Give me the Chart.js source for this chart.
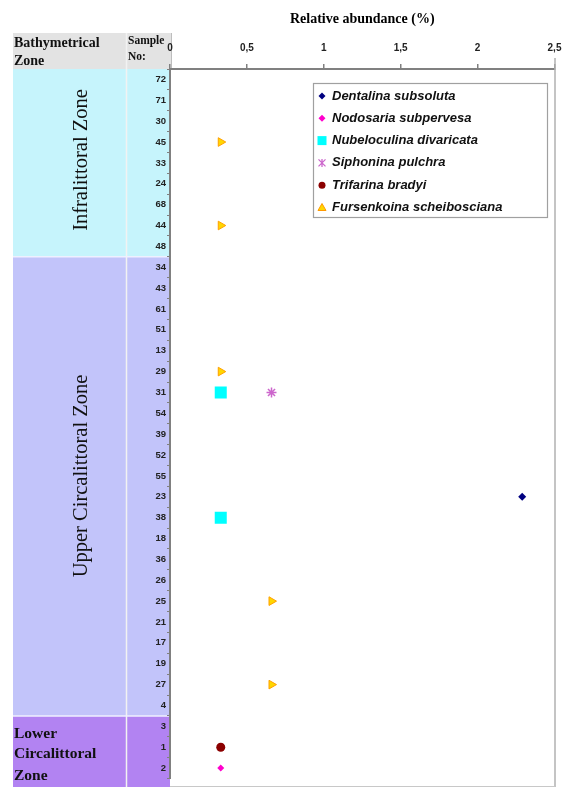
<!DOCTYPE html>
<html><head><meta charset="utf-8">
<script src="https://cdn.jsdelivr.net/npm/chart.js@4.4.1/dist/chart.umd.min.js"></script>
<style>html,body{margin:0;padding:0;background:#fff}#wrap{width:563px;height:787px;position:relative}</style>
</head><body><div id="wrap"><canvas id="c" width="563" height="787"></canvas></div>
<script>
// ---- data ----
const samples = ['72','71','30','45','33','24','68','44','48',
  '34','43','61','51','13','29','31','54','39','52','55','23','38','18','36','26','25','21','17','19','27','4',
  '3','1','2'];
const zoneNames = ['Infralittoral Zone','Upper Circalittoral Zone','Lower Circalittoral Zone'];
const zoneRowCounts = [9, 22, 3];
const xTicks = [0, 0.5, 1, 1.5, 2, 2.5];

const dentalinaSamples = ['23'];      const dentalinaValues = [2.29];
const nodosariaSamples = ['2'];       const nodosariaValues = [0.33];
const nubeloculinaSamples = ['31','38']; const nubeloculinaValues = [0.33, 0.33];
const siphoninaSamples = ['31'];      const siphoninaValues = [0.66];
const trifarinaSamples = ['1'];       const trifarinaValues = [0.33];
const fursenkoinaSamples = ['45','44','29','25','27']; const fursenkoinaValues = [0.33, 0.33, 0.33, 0.66, 0.66];

const seriesNames = ['Dentalina subsoluta','Nodosaria subpervesa','Nubeloculina divaricata','Siphonina pulchra','Trifarina bradyi','Fursenkoina scheibosciana'];

function pts(s, v){ return s.map((k,i)=>({x:v[i], y:k})); }

const zoneColors = ['#c6f4fc','#c2c4fa','#b283f2'];
const SERIF = '"Liberation Serif", "Times New Roman", serif';
const SANS = '"Liberation Sans", Arial, sans-serif';

function drawMarker(ctx, kind, x, y){
  ctx.save();
  ctx.lineWidth = 1;
  if (kind === 0 || kind === 1){
    const r = 3.5;
    ctx.fillStyle = kind===0 ? '#000080' : '#ff00cc';
    ctx.beginPath(); ctx.moveTo(x, y-r); ctx.lineTo(x+r, y); ctx.lineTo(x, y+r); ctx.lineTo(x-r, y); ctx.closePath(); ctx.fill();
  } else if (kind === 2){
    ctx.fillStyle = '#00ffff'; ctx.fillRect(x-4.5, y-4.5, 9, 9);
  } else if (kind === 3){
    ctx.strokeStyle = '#cc66cc'; ctx.lineWidth = 1.3;
    ctx.beginPath(); ctx.moveTo(x-3.5,y-3.5); ctx.lineTo(x+3.5,y+3.5); ctx.moveTo(x+3.5,y-3.5); ctx.lineTo(x-3.5,y+3.5);
    ctx.moveTo(x,y-4); ctx.lineTo(x,y+4); ctx.stroke();
  } else if (kind === 4){
    ctx.fillStyle = '#8b0000'; ctx.beginPath(); ctx.arc(x,y,3.5,0,Math.PI*2); ctx.fill();
  } else {
    ctx.fillStyle = '#ffd700'; ctx.strokeStyle = '#ff9900';
    ctx.beginPath(); ctx.moveTo(x, y-4); ctx.lineTo(x+4, y+3); ctx.lineTo(x-4, y+3); ctx.closePath(); ctx.fill(); ctx.stroke();
  }
  ctx.restore();
}

const tablePlugin = {
  id: 'tablePlugin',
  beforeDraw(chart){
    const ctx = chart.ctx, ca = chart.chartArea;
    const L = 13, D = 126, R = ca.left;
    const rowH = (ca.bottom - ca.top) / samples.length;
    ctx.save();
    ctx.fillStyle = '#e3e3e3';
    ctx.fillRect(L, 33, R - L + 1, ca.top - 33);
    let r0 = 0;
    const bounds = [];
    zoneRowCounts.forEach((n, i) => {
      const y0 = ca.top + r0*rowH, y1 = ca.top + (r0+n)*rowH;
      ctx.fillStyle = zoneColors[i];
      ctx.fillRect(L, y0, R - L, (i===2 ? chart.height : y1) - y0);
      bounds.push([y0, y1]);
      r0 += n;
    });
    ctx.strokeStyle = '#f2f2f2'; ctx.lineWidth = 1.5;
    ctx.beginPath(); ctx.moveTo(D+0.5, 33); ctx.lineTo(D+0.5, chart.height); ctx.stroke();
    ctx.strokeStyle = '#eef0ff';
    bounds.slice(0,2).forEach(b => { ctx.beginPath(); ctx.moveTo(L, b[1]); ctx.lineTo(R, b[1]); ctx.stroke(); });
    ctx.strokeStyle = '#bdbdbd'; ctx.lineWidth = 1;
    ctx.beginPath(); ctx.moveTo(R+1.5, 33); ctx.lineTo(R+1.5, ca.top); ctx.stroke();
    ctx.fillStyle = '#111';
    ctx.textBaseline = 'middle'; ctx.textAlign = 'left';
    ctx.font = 'bold 14px ' + SERIF;
    ctx.fillText('Bathymetrical', 14, 43);
    ctx.fillText('Zone', 14, 61);
    ctx.font = 'bold 11.5px ' + SERIF;
    ctx.fillText('Sample', 128, 41);
    ctx.fillText('No:', 128, 57);
    ctx.font = '20.5px ' + SERIF;
    ctx.textAlign = 'center';
    ctx.save(); ctx.translate(82, 160); ctx.rotate(-Math.PI/2); ctx.fillText(zoneNames[0], 0, 0); ctx.restore();
    ctx.save(); ctx.translate(82, 476); ctx.rotate(-Math.PI/2); ctx.fillText(zoneNames[1], 0, 0); ctx.restore();
    ctx.font = 'bold 15.5px ' + SERIF; ctx.textAlign = 'left';
    const lw = zoneNames[2].split(' ');
    ctx.fillText(lw[0], 14, 734); ctx.fillText(lw[1], 14, 754); ctx.fillText(lw[2], 14, 776);
    ctx.restore();
  },
  afterDraw(chart){
    const ctx = chart.ctx, ca = chart.chartArea;
    ctx.save();
    ctx.strokeStyle = '#b0b0b0'; ctx.lineWidth = 1.5;
    ctx.beginPath(); ctx.moveTo(ca.right+0.5, 58); ctx.lineTo(ca.right+0.5, chart.height); ctx.stroke();
    ctx.strokeStyle = '#c8c8c8'; ctx.lineWidth = 1;
    ctx.beginPath(); ctx.moveTo(ca.left, chart.height-0.5); ctx.lineTo(ca.right, chart.height-0.5); ctx.stroke();
    const bx = 313, by = 83, bw = 234, bh = 134;
    ctx.fillStyle = '#fff'; ctx.fillRect(bx, by, bw, bh);
    ctx.strokeStyle = '#a0a0a0'; ctx.lineWidth = 1.2; ctx.strokeRect(bx+0.5, by+0.5, bw, bh);
    ctx.font = 'italic bold 13px ' + SANS; ctx.fillStyle = '#111';
    ctx.textBaseline = 'middle'; ctx.textAlign = 'left';
    seriesNames.forEach((n, i) => {
      const y = by + 13 + i*22.3;
      drawMarker(ctx, i, 322, y);
      ctx.fillText(n, 332, y);
    });
    ctx.restore();
  }
};

new Chart(document.getElementById('c'), {
  type: 'scatter',
  data: {
    labels: samples,
    datasets: [
      {label: seriesNames[0], data: pts(dentalinaSamples, dentalinaValues), pointStyle:'rectRot', radius:4, backgroundColor:'#000080', borderColor:'#000080', borderWidth:0},
      {label: seriesNames[1], data: pts(nodosariaSamples, nodosariaValues), pointStyle:'rectRot', radius:3.5, backgroundColor:'#ff00cc', borderColor:'#ff00cc', borderWidth:0},
      {label: seriesNames[2], data: pts(nubeloculinaSamples, nubeloculinaValues), pointStyle:'rect', radius:8.5, backgroundColor:'#00ffff', borderColor:'#00ffff', borderWidth:0},
      {label: seriesNames[3], data: pts(siphoninaSamples, siphoninaValues), pointStyle:'star', radius:5, backgroundColor:'#cc66cc', borderColor:'#cc66cc', borderWidth:1.5},
      {label: seriesNames[4], data: pts(trifarinaSamples, trifarinaValues), pointStyle:'circle', radius:4.5, backgroundColor:'#8b0000', borderColor:'#8b0000', borderWidth:0},
      {label: seriesNames[5], data: pts(fursenkoinaSamples, fursenkoinaValues), pointStyle:'triangle', radius:5, rotation:90, backgroundColor:'#ffd700', borderColor:'#ffa000', borderWidth:1}
    ]
  },
  options: {
    responsive: false, animation: false,
    layout: {padding: {top:0, left:0, right:6, bottom:1}},
    plugins: {legend:{display:false}, tooltip:{enabled:false}},
    scales: {
      x: {
        type:'linear', position:'top', min:0, max:2.5,
        afterBuildTicks(s){ s.ticks = xTicks.map(v=>({value:v})); },
        ticks:{callback: v => String(v).replace('.', ','), font:{family:SANS, weight:'bold', size:10}, color:'#222', padding:10, maxRotation:0},
        grid:{drawOnChartArea:false, tickLength:5, color:'#808080', lineWidth:1.5},
        border:{color:'#808080', width:2},
        title:{display:true, text:'Relative abundance (%)', font:{family:SERIF, weight:'bold', size:14}, color:'#000', padding:{top:11, bottom:0}},
        afterFit(s){ s.height = 69; s.paddingLeft = 0; s.paddingRight = 0; }
      },
      y: {
        type:'category', labels: samples, offset:true, position:'left',
        ticks:{font:{family:SANS, weight:'bold', size:9.5}, color:'#222', padding:1, autoSkip:false},
        grid:{drawOnChartArea:false, offset:true, tickLength:3, color:'#808080'},
        border:{color:'#808080', width:2},
        afterFit(s){ s.width = 170; s.paddingTop = 0; s.paddingBottom = 0; }
      }
    }
  },
  plugins: [tablePlugin]
});
</script>
</body></html>
